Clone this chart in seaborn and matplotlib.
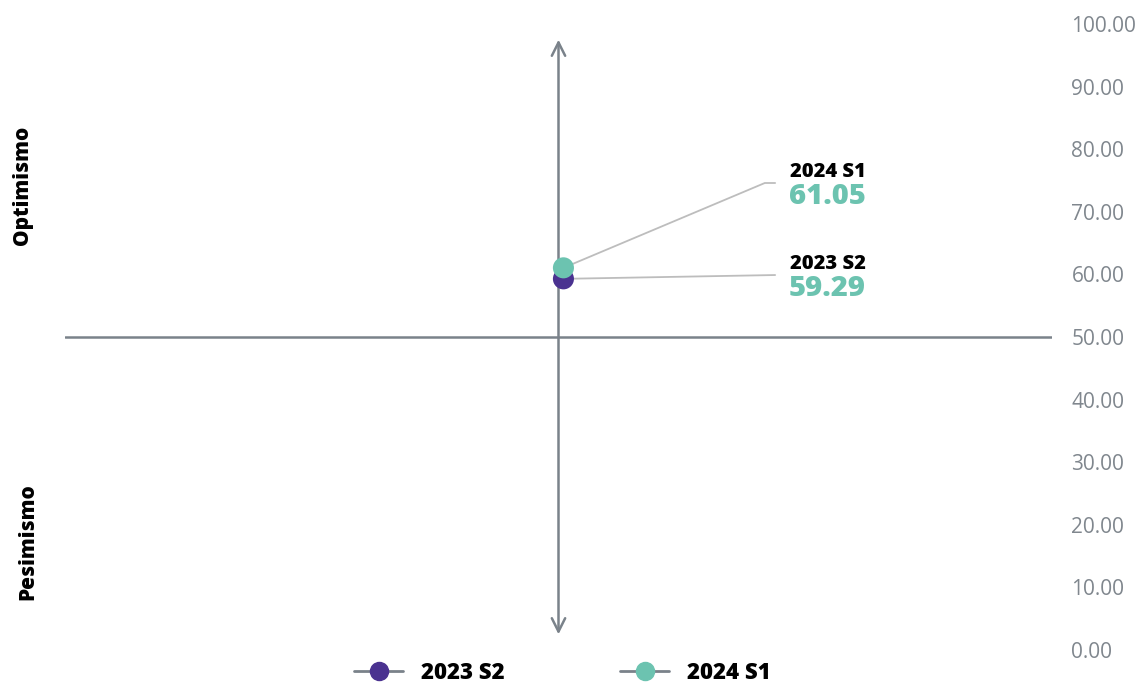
import pandas as pd
import numpy as np
import matplotlib
matplotlib.use("Agg")
import matplotlib.pyplot as plt
from matplotlib.lines import Line2D
import seaborn as sns

sns.set_theme(style="white")
plt.rcParams["font.family"] = ["Open Sans", "DejaVu Sans"]
plt.rcParams["text.color"] = "black"

# data
periods = ["2023 S2", "2024 S1"]
x_vals = [0.01, 0.01]
values = [59.29, 61.05]
colors = ["#4a3290", "#6cc3b0"]
y_ticks = [0, 10, 20, 30, 40, 50, 60, 70, 80, 90, 100]

df = pd.DataFrame({"periodo": periods, "x": x_vals, "valor": values})

AXIS_GRAY = "#7a828a"
LEADER_GRAY = "#bdbdbd"

fig = plt.figure(figsize=(11.43, 6.84), dpi=100)
ax = fig.add_axes([65 / 1143, 34 / 684, (1052 - 65) / 1143, 626 / 684])

# cross lines
ax.axhline(50, color=AXIS_GRAY, linewidth=1.8, zorder=1)
ax.annotate("", xy=(0, 97.5), xytext=(0, 2.5),
            arrowprops=dict(arrowstyle="<->,head_length=0.8,head_width=0.4",
                            color=AXIS_GRAY, lw=1.8, shrinkA=0, shrinkB=0),
            zorder=1)

# leader lines + labels (positions in data coords)
label_layout = {
    "2024 S1": dict(elbow=(0.418, 74.6), end=(0.439, 74.6), name_y=76.4, val_y=72.4),
    "2023 S2": dict(elbow=(0.439, 59.9), end=(0.439, 59.9), name_y=61.6, val_y=57.7),
}
for _, row in df.iterrows():
    lay = label_layout[row["periodo"]]
    ax.plot([row["x"], lay["elbow"][0], lay["end"][0]],
            [row["valor"], lay["elbow"][1], lay["end"][1]],
            color=LEADER_GRAY, linewidth=1.3, zorder=2)
    ax.text(0.623, lay["name_y"], row["periodo"], ha="right", va="center",
            fontsize=14.5, fontweight="heavy", color="black")
    ax.text(0.623, lay["val_y"], f"{row['valor']:.2f}", ha="right", va="center",
            fontsize=21, fontweight="heavy", color=colors[1])

sns.scatterplot(data=df, x="x", y="valor", hue="periodo", palette=colors,
                s=230, edgecolor="none", legend=False, ax=ax, zorder=3)

ax.set_xlim(-1, 1)
ax.set_ylim(0, 100)
ax.set_yticks(y_ticks)
ax.yaxis.tick_right()
ax.set_yticklabels([f"{t:.2f}" for t in y_ticks], color="#80878e", fontsize=15)
ax.tick_params(axis="y", length=0, pad=14)
ax.set_xticks([])
ax.set_xlabel("")
ax.set_ylabel("")
for s in ax.spines.values():
    s.set_visible(False)

fig.text(22 / 1143, 1 - 185 / 684, "Optimismo", rotation=90, ha="center", va="center",
         fontsize=15, fontweight="heavy")
fig.text(28 / 1143, 1 - 542 / 684, "Pesimismo", rotation=90, ha="center", va="center",
         fontsize=15, fontweight="heavy")

handles = [Line2D([0], [0], color=AXIS_GRAY, lw=2, marker="o", markersize=13,
                  markerfacecolor=c, markeredgecolor=c) for c in colors]
leg = fig.legend(handles, periods, loc="center", bbox_to_anchor=(0.492, 1 - 673 / 684),
                 ncol=2, frameon=False, columnspacing=5.2, handlelength=2.2,
                 prop=dict(size=16, weight="heavy"))

fig.savefig("out.png", dpi=100)
